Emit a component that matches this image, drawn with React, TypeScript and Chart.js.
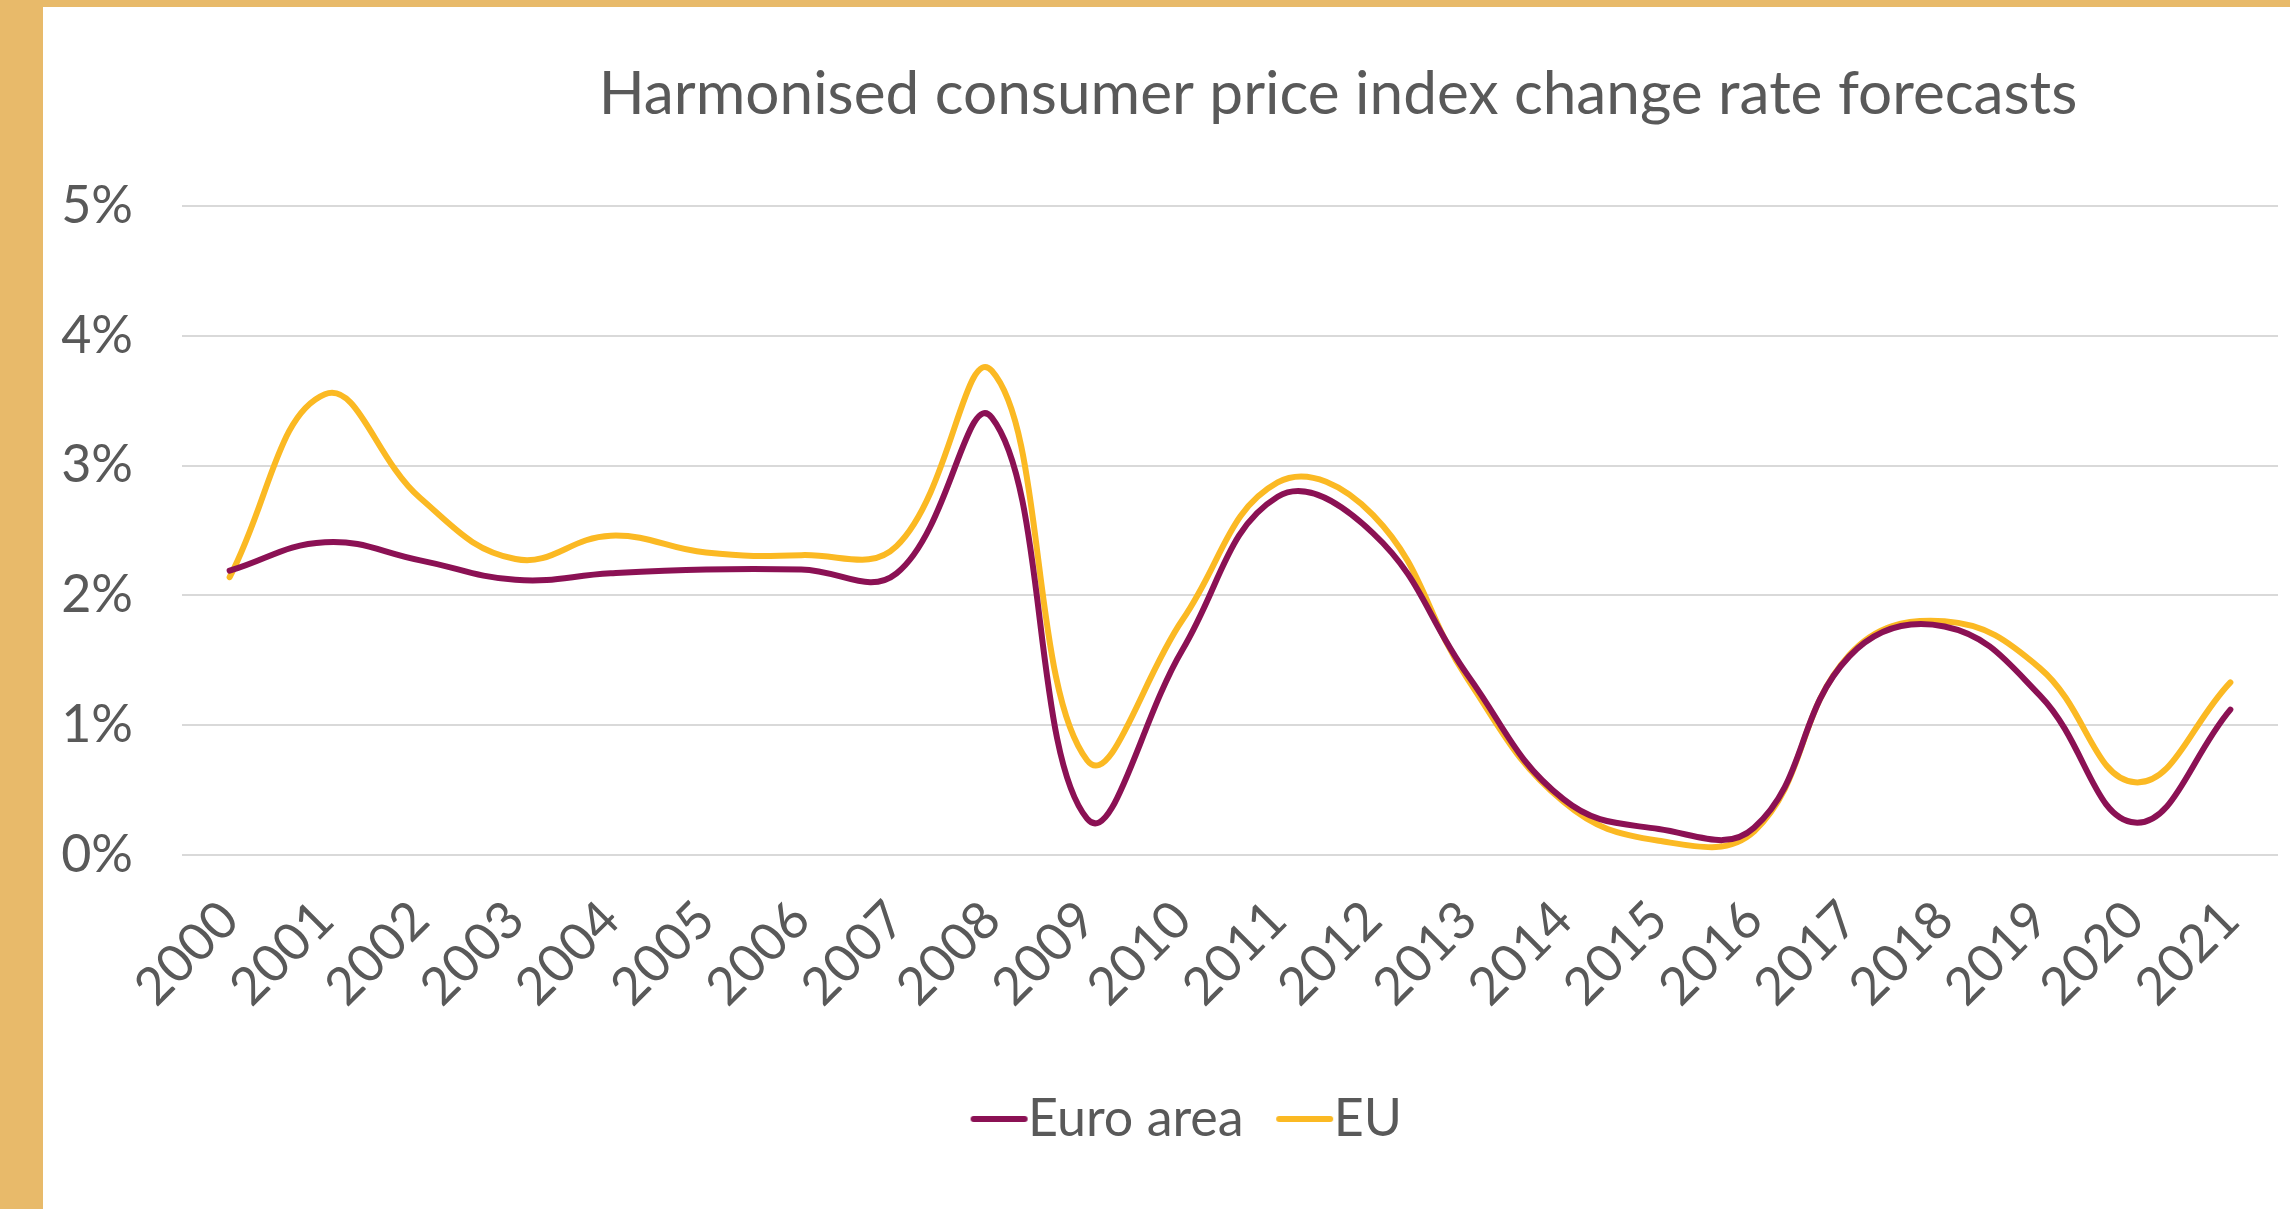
import React, { useEffect, useRef } from 'react';
import { Chart, registerables } from 'chart.js';

Chart.register(...registerables);

const years = ['2000', '2001', '2002', '2003', '2004', '2005', '2006', '2007', '2008', '2009', '2010', '2011', '2012', '2013', '2014', '2015', '2016', '2017', '2018', '2019', '2020', '2021'];
const euroArea = [2.19, 2.41, 2.27, 2.12, 2.17, 2.2, 2.2, 2.17, 3.37, 0.28, 1.58, 2.76, 2.48, 1.38, 0.43, 0.2, 0.21, 1.53, 1.76, 1.23, 0.25, 1.12];
const eu = [2.14, 3.55, 2.75, 2.28, 2.46, 2.33, 2.31, 2.38, 3.73, 0.73, 1.81, 2.87, 2.62, 1.35, 0.41, 0.11, 0.18, 1.54, 1.8, 1.44, 0.56, 1.33];
const seriesNames = ['Euro area', 'EU'];
const seriesColors = ['#8B1154', '#FBB923'];
const TITLE = 'Harmonised consumer price index change rate forecasts';

const FONT = 'Lato, "Noto Sans", sans-serif';
const TEXT = '#595959';
const GOLD = '#E8BA6A';
const W = 2290;
const H = 1209;
const LEFT_BAR = 43;
const TOP_BAR = 7;
const LEGEND_SHIFT = 13;

function legendLine(color: string) {
  const c = document.createElement('canvas');
  c.width = 112;
  c.height = 12;
  const g = c.getContext('2d')!;
  g.strokeStyle = color;
  g.lineWidth = 6;
  g.lineCap = 'round';
  g.beginPath();
  g.moveTo(56, 6);
  g.lineTo(107, 6);
  g.stroke();
  return c;
}

const titlePlugin = {
  id: 'customTitle',
  afterDraw(chart: any) {
    const ctx = chart.ctx;
    ctx.save();
    ctx.font = `400 60.3px ${FONT}`;
    ctx.fillStyle = TEXT;
    ctx.textAlign = 'center';
    ctx.textBaseline = 'alphabetic';
    ctx.fillText(TITLE, 1295, 107);
    ctx.restore();
  },
};

const legendShiftPlugin = {
  id: 'legendShift',
  afterLayout(chart: any) {
    const l = chart.legend;
    if (l) {
      l.left += LEGEND_SHIFT;
      l.right += LEGEND_SHIFT;
    }
  },
};

export default function App() {
  const ref = useRef<HTMLCanvasElement | null>(null);

  useEffect(() => {
    document.body.style.margin = '0';
    const canvas = ref.current!;
    const imgs = seriesColors.map((c) => legendLine(c));
    const chart = new Chart(canvas, {
      type: 'line',
      data: {
        labels: years,
        datasets: [
          {
            label: seriesNames[0],
            data: euroArea,
            borderColor: seriesColors[0],
            backgroundColor: seriesColors[0],
            borderWidth: 6,
            pointRadius: 0,
            tension: 0.42,
            borderCapStyle: 'round',
            fill: false,
          },
          {
            label: seriesNames[1],
            data: eu,
            borderColor: seriesColors[1],
            backgroundColor: seriesColors[1],
            borderWidth: 6,
            pointRadius: 0,
            tension: 0.42,
            borderCapStyle: 'round',
            fill: false,
          },
        ],
      },
      options: {
        animation: false,
        responsive: false,
        devicePixelRatio: 1,
        layout: { padding: { top: 199, right: 12, bottom: 54, left: 0 } },
        scales: {
          x: {
            offset: true,
            grid: { display: false, drawTicks: false },
            border: { display: false },
            ticks: {
              autoSkip: false,
              minRotation: 45,
              maxRotation: 45,
              padding: 34,
              color: TEXT,
              font: { family: FONT, size: 52 },
            },
            afterFit: (s: any) => {
              s.height = 231;
              s.paddingLeft = 0;
              s.paddingRight = 0;
            },
          },
          y: {
            min: 0,
            max: 5,
            grid: { color: '#D9D9D9', lineWidth: 2, drawTicks: false },
            border: { display: false },
            ticks: {
              stepSize: 1,
              padding: 49,
              color: TEXT,
              font: { family: FONT, size: 52 },
              callback: (v: any) => `${v}%`,
            },
            afterFit: (s: any) => {
              s.width = 139;
              s.paddingTop = 0;
              s.paddingBottom = 0;
            },
          },
        },
        plugins: {
          title: { display: false },
          tooltip: { enabled: false },
          legend: {
            position: 'bottom',
            labels: {
              usePointStyle: true,
              pointStyleWidth: 57,
              boxWidth: 57,
              boxHeight: 12,
              padding: 7,
              color: TEXT,
              font: { family: FONT, size: 52 },
              generateLabels: (ch: any) => {
                const items = (Chart.defaults.plugins.legend.labels as any).generateLabels(ch);
                items.forEach((it: any, i: number) => {
                  it.pointStyle = imgs[i];
                });
                return items;
              },
            },
          },
        },
      },
      plugins: [titlePlugin, legendShiftPlugin],
    } as any);
    return () => chart.destroy();
  }, []);

  const cw = W - LEFT_BAR;
  const ch = H - TOP_BAR;
  return (
    <div style={{ position: 'relative', width: W, height: H, background: '#ffffff', overflow: 'hidden' }}>
      <div style={{ position: 'absolute', left: 0, top: 0, width: W, height: TOP_BAR, background: GOLD }} />
      <div style={{ position: 'absolute', left: 0, top: 0, width: LEFT_BAR, height: H, background: GOLD }} />
      <canvas
        ref={ref}
        width={cw}
        height={ch}
        style={{ position: 'absolute', left: LEFT_BAR, top: TOP_BAR, width: cw, height: ch }}
      />
    </div>
  );
}
